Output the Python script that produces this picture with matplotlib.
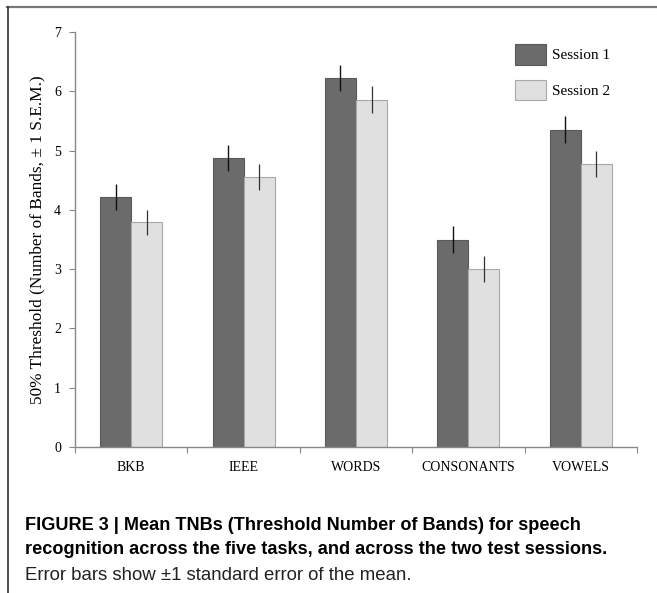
import numpy as np
import matplotlib
matplotlib.use('Agg')
import matplotlib.pyplot as plt
from matplotlib.lines import Line2D
from matplotlib import font_manager

# datos
tareas = ['BKB', 'IEEE', 'WORDS', 'CONSONANTS', 'VOWELS']
sesion1 = [4.21, 4.87, 6.23, 3.50, 5.35]
sesion2 = [3.79, 4.55, 5.86, 3.00, 4.77]
sem1 = [0.22, 0.22, 0.22, 0.22, 0.23]
sem2 = [0.21, 0.22, 0.23, 0.22, 0.22]

serif = 'Liberation Serif'
nombres = [f.name for f in font_manager.fontManager.ttflist]
sans = 'Liberation Sans Narrow' if 'Liberation Sans Narrow' in nombres else 'Liberation Sans'

fig = plt.figure(figsize=(6.57, 5.93), dpi=100)
ax = fig.add_axes([75/657, 146/593, 562/657, 415/593])

x = np.arange(len(tareas))
ancho = 0.276
ax.bar(x - ancho/2, sesion1, width=ancho, color='#6b6b6b', edgecolor='#5a5a5a', linewidth=0.8, label='Session 1')
ax.bar(x + ancho/2, sesion2, width=ancho, color='#e0e0e0', edgecolor='#a8a8a8', linewidth=0.8, label='Session 2')
ax.errorbar(x - ancho/2, sesion1, yerr=sem1, fmt='none', ecolor='#111111', elinewidth=1.0, capsize=0)
ax.errorbar(x + ancho/2, sesion2, yerr=sem2, fmt='none', ecolor='#333333', elinewidth=0.9, capsize=0)

ax.set_xlim(-0.5, len(tareas) - 0.5)
ax.set_ylim(0, 7)
ax.set_yticks(range(8))
ax.set_xticks(np.arange(len(tareas) + 1) - 0.5)
ax.set_xticklabels([])
ax.set_xticks(x, minor=True)
ax.set_xticklabels(tareas, minor=True, fontfamily=serif, fontsize=10)
ax.tick_params(axis='x', which='minor', length=0, pad=10)
ax.tick_params(axis='x', which='major', length=4, color='#888888', direction='out')
ax.tick_params(axis='y', length=4, color='#888888', pad=6, labelsize=10)
for t in ax.get_yticklabels():
    t.set_fontfamily(serif)
for s in ['top', 'right']:
    ax.spines[s].set_visible(False)
for s in ['left', 'bottom']:
    ax.spines[s].set_color('#888888')
    ax.spines[s].set_linewidth(1.0)

ax.set_ylabel('50% Threshold (Number of Bands, \u00b1 1 S.E.M.)', fontfamily=serif, fontsize=12.4, labelpad=6)

ax.legend(loc='upper left', bbox_to_anchor=(515/657, 1 - 44/593), bbox_transform=fig.transFigure,
          frameon=False, prop={'family': serif, 'size': 11}, handlelength=2.0, handleheight=1.7,
          labelspacing=0.98, handletextpad=0.45, borderpad=0, borderaxespad=0)

# marco de la figura
fig.add_artist(Line2D([7/657, 1], [1 - 7/593, 1 - 7/593], color='#777777', linewidth=1.6))
fig.add_artist(Line2D([8/657, 8/657], [0, 1 - 7/593], color='#333333', linewidth=1.2))

fig.text(25/657, 1 - 525/593, 'FIGURE 3 | Mean TNBs (Threshold Number of Bands) for speech',
         fontfamily=sans, fontweight='bold', fontsize=13.1, va='center', ha='left')
fig.text(25/657, 1 - 549/593, 'recognition across the five tasks, and across the two test sessions.',
         fontfamily=sans, fontweight='bold', fontsize=13.1, va='center', ha='left')
fig.text(25/657, 1 - 575/593, 'Error bars show \u00b11 standard error of the mean.',
         fontfamily=sans, fontsize=13.4, va='center', ha='left', color='#222222')

fig.savefig('out.png', dpi=100)
